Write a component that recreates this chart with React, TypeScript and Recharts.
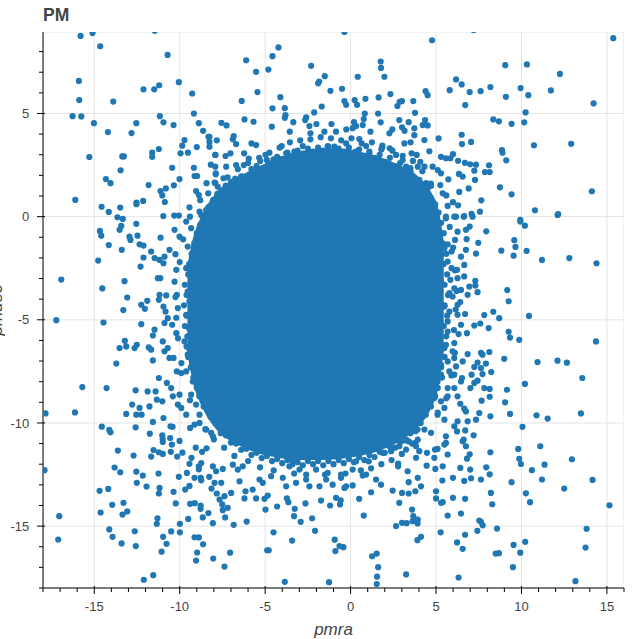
import React from 'react';
import { ComposedChart, Area, Scatter, XAxis, YAxis, CartesianGrid, ReferenceArea } from 'recharts';

const W = 635;
const H = 639;
const FONT = '"Liberation Sans", Helvetica, Arial, sans-serif';
const BLUE = '#1f77b4';
const TEXT = '#444444';

// Axis ticks
const xAllTicks = [-18, -17, -16, -15, -14, -13, -12, -11, -10, -9, -8, -7, -6, -5, -4, -3, -2, -1, 0, 1, 2, 3, 4, 5, 6, 7, 8, 9, 10, 11, 12, 13, 14, 15, 16];
const yAllTicks = [-18, -17, -16, -15, -14, -13, -12, -11, -10, -9, -8, -7, -6, -5, -4, -3, -2, -1, 0, 1, 2, 3, 4, 5, 6, 7, 8];
const xMajorTicks = [-15, -10, -5, 0, 5, 10, 15];
const yMajorTicks = [-15, -10, -5, 0, 5];

// Dense core (saturated region) outline: pmra, lower pmdec, upper pmdec
const blobX = [-9.55, -9.15, -8.5, -7.75, -6.5, -5.33, -4.16, -2.99, -1.82, -0.65, 0.52, 1.68, 2.85, 3.8, 4.55, 5.1, 5.45];
const blobLow = [-6.4, -8.1, -9.45, -10.35, -11.05, -11.45, -11.65, -11.75, -11.75, -11.7, -11.55, -11.3, -10.85, -10.25, -9.45, -8.2, -6.2];
const blobHigh = [-2.6, -1.0, 0.3, 1.2, 1.9, 2.4, 2.8, 3.1, 3.25, 3.25, 3.1, 2.85, 2.45, 2.0, 1.3, 0.3, -1.6];

// Stars crowding the edge of the dense core [pmra, pmdec]
const ptsCoreEdge = [
  [-7.6, 1.2], [-7.3, 1.5], [-7.0, 1.4], [-6.75, 1.85], [-6.4, 1.95], [-6.1, 1.8], [-5.8, 2.3], [-5.5, 2.45], [-5.2, 2.3],
  [-4.9, 2.75], [-4.6, 2.6], [-4.3, 2.9], [-4.0, 2.8], [-3.7, 3.1], [-3.4, 2.95], [-3.1, 3.2], [-2.8, 3.05], [-2.5, 3.3],
  [-2.2, 3.15], [-1.9, 3.35], [-1.6, 3.2], [-1.3, 3.4], [-1.0, 3.2], [-0.7, 3.3], [-0.4, 3.15], [-0.1, 3.35], [0.2, 3.1],
  [0.5, 3.25], [0.8, 2.95], [1.1, 3.15], [1.4, 2.85], [1.7, 3.0], [2.0, 2.65], [2.3, 2.85], [2.6, 2.45], [2.9, 2.6],
  [3.2, 2.2], [3.5, 2.35], [3.8, 1.85], [4.1, 1.6], [4.35, 1.3], [4.6, 0.95],
  [-7.2, 1.9], [-6.6, 2.3], [-6.0, 2.6], [-5.35, 2.85], [-4.75, 3.1], [-4.15, 3.35], [-3.55, 3.6], [-2.95, 3.7], [-2.35, 3.75],
  [-1.75, 3.85], [-1.15, 3.8], [-0.55, 3.7], [0.05, 3.8], [0.65, 3.55], [1.25, 3.6], [1.85, 3.35], [2.45, 3.2], [3.05, 2.95],
  [3.65, 2.7], [4.2, 2.2], [4.7, 1.6],
  [4.95, 0.6], [5.15, 0.2], [5.3, -0.3], [5.45, -0.8], [5.4, -1.3], [5.6, -1.8], [5.45, -2.3], [5.65, -2.8], [5.5, -3.3],
  [5.7, -3.8], [5.5, -4.3], [5.65, -4.8], [5.45, -5.3], [5.6, -5.8], [5.45, -6.3], [5.5, -6.8], [5.3, -7.3], [5.35, -7.8],
  [5.1, -8.3], [4.95, -8.7], [4.7, -9.2], [4.4, -9.6],
  [5.8, -0.5], [6.0, -1.5], [6.1, -2.6], [6.2, -3.6], [6.15, -4.5], [6.05, -5.5], [6.1, -6.6], [5.9, -7.7], [5.6, -8.8], [5.1, -9.5],
  [4.1, -10.0], [3.8, -10.4], [3.5, -10.5], [3.2, -10.85], [2.9, -10.95], [2.6, -11.2], [2.3, -11.15], [2.0, -11.45], [1.7, -11.4],
  [1.4, -11.65], [1.1, -11.55], [0.8, -11.8], [0.5, -11.65], [0.2, -11.9], [-0.1, -11.75], [-0.4, -11.95], [-0.7, -11.8], [-1.0, -12.0],
  [-1.3, -11.85], [-1.6, -12.05], [-1.9, -11.85], [-2.2, -12.0], [-2.5, -11.85], [-2.8, -12.05], [-3.1, -11.9], [-3.4, -12.0], [-3.7, -11.8],
  [-4.0, -11.95], [-4.3, -11.75], [-4.6, -11.85], [-4.9, -11.6], [-5.2, -11.7], [-5.5, -11.45], [-5.8, -11.55], [-6.1, -11.25], [-6.4, -11.3],
  [-6.7, -11.0], [-7.0, -10.95], [-7.3, -10.6], [-7.6, -10.5], [-7.9, -10.0], [-8.2, -9.7],
  [3.6, -11.0], [3.0, -11.5], [2.4, -11.8], [1.8, -12.0], [1.2, -12.2], [0.6, -12.3], [-0.3, -12.45], [-1.5, -12.5], [-2.6, -12.5],
  [-3.3, -12.45], [-4.5, -12.3], [-5.3, -12.15], [-6.0, -11.85], [-6.8, -11.6], [-7.4, -11.2], [-8.0, -10.8], [-8.5, -10.3],
  [-8.6, -9.2], [-8.85, -8.7], [-9.0, -8.3], [-9.2, -7.8], [-9.35, -7.3], [-9.5, -6.8], [-9.6, -6.3], [-9.55, -5.8], [-9.7, -5.3],
  [-9.6, -4.8], [-9.75, -4.3], [-9.6, -3.8], [-9.7, -3.3], [-9.5, -2.8], [-9.45, -2.3], [-9.3, -1.8], [-9.15, -1.3], [-9.0, -0.8],
  [-8.8, -0.4], [-8.6, 0.0], [-8.35, 0.4], [-8.05, 0.8], [-7.8, 1.1],
  [-9.4, -8.9], [-9.9, -7.1], [-10.1, -5.9], [-10.2, -4.9], [-10.25, -3.9], [-10.0, -2.2], [-9.8, -1.1], [-9.4, 0.0], [-8.8, 0.8],
];

// Individual stars [pmra, pmdec]
const ptsUpperLeft = [
  [-15.8, 8.76], [-15.1, 8.9], [-14.65, 8.26], [-11.46, 9.0], [-10.71, 7.84], [-15.9, 6.58], [-15.88, 5.65], [-13.89, 5.58],
  [-16.27, 4.87], [-15.76, 4.86], [-15.02, 4.53], [-14.2, 4.1], [-12.82, 4.05], [-12.54, 4.53], [-12.12, 6.17], [-11.49, 6.17],
  [-11.2, 6.37], [-10.05, 6.52], [-9.27, 5.97], [-9.17, 5.0], [-11.16, 4.87], [-10.95, 4.57], [-10.36, 4.44], [-8.88, 4.53],
  [-8.63, 4.16], [-8.32, 3.87], [-8.26, 3.62], [-9.72, 3.71], [-9.85, 3.44], [-9.0, 3.37], [-11.22, 3.28], [-11.61, 3.1],
  [-11.61, 2.9], [-9.95, 3.07], [-9.52, 3.1], [-7.92, 2.99], [-15.29, 2.89], [-13.36, 2.92], [-13.27, 2.92], [-13.46, 2.25],
  [-10.44, 2.37], [-9.17, 2.37], [-8.18, 2.52], [-9.13, 1.97], [-8.98, 1.97], [-7.89, 2.1], [-14.32, 1.82], [-14.05, 1.62],
  [-11.82, 1.53], [-10.34, 1.52], [-10.01, 1.82], [-8.43, 1.62], [-7.91, 1.62], [-10.81, 1.37], [-11.12, 1.24], [-11.02, 1.03],
  [-10.87, 0.71], [-9.04, 1.24], [-8.88, 1.05], [-8.33, 1.13], [-7.83, 0.86], [-16.11, 0.81], [-14.57, 0.48], [-12.53, 0.68],
  [-12.53, 0.6], [-12.14, 0.76], [-13.48, 0.44], [-14.15, 0.23], [-13.64, -0.03], [-13.33, -0.11], [-10.96, 0.03], [-10.32, 0.05],
  [-10.05, 0.05], [-9.43, 0.45], [-8.84, 0.24], [-8.74, 0.08], [-8.45, 0.32], [-8.3, 0.48],
];

const ptsTopMid = [
  [-0.36, 8.95], [-4.22, 8.2], [-4.57, 7.78], [-6.11, 7.58], [-5.53, 7.02], [-4.81, 7.13], [-2.31, 7.31], [1.76, 7.52],
  [1.78, 7.21], [1.98, 6.78], [0.42, 6.78], [-1.51, 6.81], [-1.84, 6.55], [-1.9, 6.46], [-5.45, 6.04], [-6.37, 5.61],
  [-4.11, 5.79], [-1.18, 6.1], [-0.5, 6.2], [-0.36, 5.6], [-0.26, 5.42], [0.24, 5.65], [0.38, 5.42], [0.87, 5.71],
  [1.64, 5.78], [2.33, 5.94], [2.87, 5.57], [3.01, 5.6], [2.74, 5.36], [3.67, 5.6], [-4.57, 5.25], [-3.85, 5.26],
  [-3.81, 4.92], [-3.85, 4.79], [-1.69, 5.34], [-2.13, 5.05], [-2.6, 4.81], [-2.66, 4.68], [-6.21, 4.71], [-5.68, 4.6],
  [-3.35, 4.58], [-7.56, 4.55], [-7.26, 4.42], [-4.61, 4.36], [-2.41, 4.39], [-2.35, 4.04], [-2.0, 4.49], [-1.12, 4.49],
  [-0.25, 4.23], [0.2, 4.58], [0.12, 4.29], [0.32, 4.39], [0.83, 5.0], [0.77, 4.73], [1.61, 5.0], [0.71, 4.44],
  [1.16, 4.12], [1.76, 4.57], [2.44, 4.23], [2.27, 4.04], [2.85, 4.68], [3.01, 4.33], [3.16, 4.16], [3.4, 4.58],
  [3.77, 5.03], [-3.56, 4.12], [-1.53, 4.12], [-0.85, 4.12], [-8.26, 3.87], [-7.83, 3.7], [-6.84, 3.91], [-6.89, 3.75],
  [-6.7, 3.52], [-5.8, 3.55], [-5.53, 3.47], [-6.23, 3.07], [-4.03, 3.42], [-2.8, 3.42], [-0.26, 3.55], [0.51, 3.76],
  [1.86, 3.44], [1.8, 3.26], [2.29, 3.31], [3.15, 3.55], [3.51, 3.6], [-7.91, 2.99], [-7.32, 2.94], [-7.03, 3.07],
  [-4.98, 3.0], [-5.29, 2.7], [-5.96, 2.81], [-4.51, 2.78], [3.57, 3.07], [3.87, 2.99], [-7.92, 2.42], [-7.28, 2.42],
  [-6.7, 2.5], [-6.25, 2.5], [-5.73, 2.21], [-4.82, 2.5], [-7.89, 2.05], [-7.44, 1.86], [-6.99, 1.69], [-6.31, 1.94],
  [-7.96, 1.65], [-7.77, 1.45], [3.25, 2.42], [3.51, 2.18], [3.44, 1.86], [3.77, 1.53], [-6.37, 1.42], [-5.76, 1.29],
  [-5.33, 1.53], [-5.08, 1.62], [-7.48, 0.81], [-6.99, 0.73], [-7.87, 0.48], [-6.02, 0.97], [-5.53, 1.13],
  [-3.77, 3.07], [-3.29, 3.15], [-1.82, 3.19], [-1.34, 3.42], [-0.95, 3.39], [0.91, 3.42], [1.1, 3.07], [0.32, 3.15],
  [2.66, 2.99], [3.05, 2.74], [-8.26, 3.39],
];

const ptsTopRight = [
  [7.2, 9.04], [4.77, 8.55], [15.37, 8.65], [9.05, 7.34], [10.32, 7.38], [12.25, 6.92], [6.17, 6.65], [6.5, 6.41],
  [5.8, 6.13], [6.97, 6.04], [7.61, 6.08], [8.18, 6.28], [9.09, 5.81], [9.95, 6.23], [10.4, 5.89], [11.72, 6.12],
  [14.22, 5.49], [6.71, 5.41], [4.39, 6.08], [4.51, 5.89], [10.24, 5.05], [10.16, 4.57], [8.35, 4.71], [8.68, 4.62],
  [9.42, 4.5], [4.36, 4.68], [4.22, 4.44], [4.51, 4.42], [3.73, 4.28], [3.73, 3.95], [5.15, 3.79], [6.5, 3.97],
  [6.52, 3.52], [7.05, 3.62], [10.73, 3.46], [12.91, 3.53], [8.86, 3.23], [8.89, 3.1], [9.11, 2.73], [4.32, 3.71],
  [4.61, 3.17], [4.08, 2.66], [5.29, 2.9], [5.58, 2.83], [5.84, 2.83], [5.99, 3.03], [6.29, 2.71], [6.69, 2.61],
  [7.0, 2.54], [7.34, 2.52], [8.1, 2.49], [7.86, 2.16], [8.14, 2.16], [7.24, 2.23], [4.32, 2.42], [4.8, 2.42],
  [5.1, 2.26], [5.29, 2.1], [6.34, 2.07], [6.56, 1.94], [5.72, 1.81], [7.28, 1.78], [5.25, 1.53], [4.71, 1.5],
  [4.42, 1.62], [8.74, 1.42], [9.42, 1.08], [14.12, 1.23], [6.91, 1.37], [5.39, 1.13], [5.6, 1.03], [6.36, 1.2],
  [7.65, 0.79], [5.99, 0.7], [6.29, 0.55], [5.68, 0.52], [10.79, 0.31], [12.15, 0.12], [7.57, 0.24], [7.08, 0.13],
  [6.65, 0.03], [6.17, 0.0], [5.58, 0.0], [9.93, -0.16], [4.9, 0.24], [4.51, 0.08], [4.12, 0.32],
  [3.93, 2.42], [4.02, 1.78], [4.51, 1.37], [3.93, 1.13], [4.22, 0.73], [4.61, 0.48], [3.83, 0.48],
];

const ptsRight = [
  [12.11, 0.08], [9.93, -0.24], [10.2, -0.44], [7.94, -0.71], [9.58, -1.14], [9.65, -1.47], [8.82, -1.65], [9.54, -1.89],
  [10.3, -1.66], [11.2, -2.1], [12.8, -2.01], [14.39, -2.26], [7.47, -1.27], [7.34, -1.79], [6.75, -1.61], [6.79, -1.09],
  [6.97, -0.48], [6.75, -0.64], [6.62, 0.0], [7.14, 0.0], [6.11, -1.13], [5.68, -1.34], [5.91, -1.69], [6.46, -1.94],
  [6.65, -2.34], [6.23, -2.58], [5.91, -2.5], [5.84, -3.06], [6.26, -2.98], [7.3, -3.11], [7.3, -3.34], [7.43, -3.66],
  [6.95, -3.39], [6.85, -3.79], [6.07, -3.47], [6.46, -3.55], [5.97, -3.87], [6.42, -4.14], [9.17, -3.56], [9.25, -4.1],
  [8.35, -4.61], [8.7, -4.92], [7.82, -4.77], [10.44, -4.81], [6.7, -4.72], [6.26, -4.76], [5.78, -4.6], [7.59, -5.18],
  [7.24, -5.28], [8.08, -5.4], [6.46, -5.24], [6.32, -5.69], [6.81, -5.65], [9.25, -5.58], [9.33, -5.86], [9.87, -5.97],
  [14.36, -6.05], [5.68, -5.57], [6.07, -6.13], [5.58, -6.21], [6.85, -6.66], [7.63, -6.6], [8.12, -6.56], [7.72, -6.69],
  [7.43, -7.07], [7.92, -7.12], [7.24, -7.29], [7.63, -7.34], [8.99, -6.89], [10.94, -7.05], [12.11, -6.98], [12.66, -7.08],
  [6.07, -6.85], [6.17, -7.26], [5.78, -7.5], [8.23, -7.53], [7.72, -7.63], [7.08, -7.66], [7.43, -7.95], [7.24, -8.06],
  [13.56, -7.82], [10.2, -8.11], [6.52, -7.82], [6.46, -7.99], [6.07, -7.66], [7.82, -8.31], [8.14, -8.35], [7.01, -8.31],
  [9.15, -8.39], [8.14, -8.73], [7.67, -8.92], [9.04, -9.0], [6.42, -9.07], [6.65, -9.31], [6.75, -9.44], [5.49, -9.27],
  [5.68, -8.71], [6.07, -8.31], [9.33, -9.56], [8.18, -9.68], [7.53, -9.52], [7.34, -9.84], [6.85, -9.92], [10.88, -9.63],
  [11.53, -9.79], [13.48, -9.54], [6.26, -9.92], [5.49, -9.84], [5.09, -9.6], [5.29, -3.15], [5.19, -2.34], [5.29, -1.85],
  [5.49, -1.53], [5.19, -0.97], [5.09, -0.4], [5.58, -0.08], [6.07, 0.0], [5.09, -4.11], [5.49, -4.36], [5.29, -5.24],
  [5.68, -5.08], [5.09, -5.89], [5.49, -6.37], [5.29, -7.18], [5.09, -7.99], [5.68, -8.31], [4.9, -8.79],
  [6.26, -0.73], [5.68, -2.18], [6.65, -2.9], [5.78, -3.71], [6.26, -4.27], [5.97, -6.53], [5.68, -7.02], [6.56, -7.02],
  [5.29, -7.66], [6.26, -8.71], [5.29, -8.95],
];

const ptsLeft = [
  [-16.93, -3.05], [-17.22, -5.02], [-17.85, -9.54], [-16.13, -9.49], [-15.7, -8.26], [-14.28, -8.31], [-14.77, -2.13], [-14.53, -3.48],
  [-14.46, -5.13], [-14.67, -0.69], [-14.59, -0.92], [-14.15, -1.38], [-13.52, -0.64], [-13.42, -0.45], [-12.54, -0.35], [-12.47, -0.92],
  [-12.94, -0.97], [-12.88, -1.13], [-13.39, -1.61], [-12.35, -1.34], [-12.12, -1.4], [-12.29, -2.42], [-12.12, -1.98], [-13.23, -3.13],
  [-13.07, -3.92], [-13.3, -4.53], [-12.25, -4.27], [-11.9, -4.08], [-12.04, -4.47], [-12.25, -5.21], [-11.12, -1.02], [-11.67, -1.69],
  [-11.47, -2.01], [-11.18, -2.1], [-10.89, -1.94], [-10.95, -2.26], [-11.28, -2.98], [-11.14, -2.98], [-11.18, -3.79], [-10.79, -3.82],
  [-11.22, -4.03], [-10.95, -4.36], [-10.83, -4.6], [-10.7, -4.92], [-10.89, -5.16], [-11.47, -5.48], [-11.57, -5.76], [-13.21, -6.02],
  [-13.13, -6.29], [-13.52, -6.37], [-12.51, -6.21], [-12.64, -6.37], [-11.81, -6.34], [-11.67, -6.45], [-13.71, -7.12], [-11.57, -6.97],
  [-11.22, -7.82], [-10.99, -6.05], [-10.7, -6.37], [-10.89, -6.53], [-10.6, -6.85], [-12.58, -8.42], [-11.88, -8.47], [-11.41, -8.47],
  [-12.78, -9.11], [-12.35, -9.27], [-12.54, -9.6], [-12.23, -9.6], [-13.13, -9.56], [-11.77, -9.2], [-11.34, -8.87], [-11.02, -8.95],
  [-11.57, -9.95], [-10.95, -9.76], [-10.75, -8.06], [-10.5, -8.31], [-10.4, -8.71], [-10.2, -2.58], [-10.3, -3.15], [-10.17, -3.79],
  [-10.11, -4.43], [-10.6, -1.61], [-10.25, -1.82], [-10.3, -0.64], [-10.01, -0.97], [-10.44, -5.24], [-10.2, -5.65], [-10.36, -6.85],
  [-10.17, -7.5], [-9.91, -7.58], [-10.01, -8.63], [-10.11, -9.11], [-9.62, -9.6], [-9.91, -9.27], [-9.62, -0.24], [-9.33, -0.56],
  [-9.53, -1.45], [-9.23, -1.85], [-9.62, -2.5], [-9.53, -3.63], [-9.43, -4.11], [-9.62, -4.76], [-9.47, -5.4], [-9.72, -6.05],
  [-9.53, -6.69], [-9.62, -7.5], [-9.23, -7.99], [-9.33, -8.63], [-9.04, -9.11], [-8.84, -9.6],
];

const ptsBottomLeft = [
  [-17.91, -12.29], [-17.05, -14.52], [-17.11, -15.65], [-14.56, -10.18], [-14.12, -10.34], [-14.05, -10.45], [-12.58, -10.21], [-11.02, -10.6],
  [-11.0, -10.76], [-10.99, -10.92], [-11.75, -10.52], [-10.54, -10.16], [-10.42, -10.19], [-10.56, -10.73], [-10.46, -11.05], [-10.52, -11.4],
  [-10.01, -10.87], [-10.15, -11.63], [-9.84, -11.44], [-13.62, -11.34], [-12.7, -11.58], [-11.53, -11.31], [-11.22, -11.42], [-10.99, -11.5],
  [-11.67, -11.63], [-13.81, -12.16], [-13.48, -12.39], [-12.54, -12.36], [-12.51, -12.9], [-12.16, -12.55], [-11.94, -13.08], [-11.24, -12.45],
  [-11.18, -13.15], [-11.22, -13.42], [-10.36, -13.34], [-10.05, -12.61], [-10.23, -13.9], [-14.69, -13.29], [-14.18, -13.2], [-14.63, -14.34],
  [-13.95, -13.97], [-13.29, -13.87], [-13.07, -14.29], [-13.35, -14.44], [-11.3, -14.62], [-11.34, -14.89], [-14.12, -15.16], [-13.93, -15.52],
  [-13.4, -15.84], [-12.63, -15.25], [-12.57, -15.97], [-10.97, -15.52], [-10.77, -15.86], [-11.06, -16.24], [-10.5, -15.26], [-9.99, -14.89],
  [-9.99, -15.3], [-9.5, -14.65], [-12.1, -17.6], [-11.55, -17.38], [-9.39, -13.92], [-9.12, -13.89], [-8.78, -14.16], [-8.77, -14.0],
  [-8.65, -14.58], [-9.13, -15.54], [-8.88, -15.55], [-8.63, -15.88], [-8.98, -16.28], [-9.04, -16.67], [-8.04, -16.57], [-8.06, -14.86],
  [-8.32, -14.37], [-9.68, -13.23], [-9.43, -13.05], [-9.13, -12.66], [-8.74, -12.78], [-8.77, -12.66], [-8.14, -13.18], [-7.83, -13.42],
  [-9.58, -12.42], [-8.88, -12.25], [-8.27, -12.61], [-9.43, -11.98], [-9.31, -11.69], [-9.06, -11.2], [-8.69, -11.4], [-8.43, -11.23],
  [-9.39, -10.24], [-9.13, -10.08], [-8.84, -10.0], [-8.45, -10.32], [-8.16, -10.48], [-8.06, -10.65], [-8.74, -11.94], [-8.88, -12.1],
  [-8.06, -12.1], [-7.87, -12.34],
];

const ptsBottomMid = [
  [-7.38, -16.96], [-7.05, -16.29], [-6.84, -14.94], [-6.08, -14.78], [-7.34, -14.58], [-7.48, -14.23], [-7.19, -14.11], [-7.51, -13.95],
  [-7.67, -13.71], [-6.99, -13.39], [-6.21, -13.66], [-5.53, -13.66], [-4.98, -14.2], [-5.04, -13.68], [-4.85, -13.52], [-4.51, -15.3],
  [-4.88, -16.17], [-4.79, -16.17], [-3.85, -17.7], [-3.42, -15.7], [-4.3, -14.05], [-3.64, -13.84], [-3.73, -13.65], [-3.27, -14.16],
  [-3.31, -14.52], [-2.92, -14.79], [-2.64, -13.9], [-2.25, -14.62], [-2.08, -15.23], [-1.73, -13.76], [-1.2, -14.0], [-0.85, -13.63],
  [-0.58, -13.75], [-0.62, -13.95], [-0.36, -13.15], [-1.26, -17.72], [-0.93, -15.66], [-0.65, -15.97], [-0.42, -16.02], [-0.89, -16.21],
  [0.5, -13.68], [0.77, -14.49], [0.12, -13.03], [0.71, -12.55], [1.2, -13.36], [1.26, -16.46], [1.53, -16.33], [1.61, -16.99],
  [1.55, -17.45], [1.53, -17.81], [1.78, -12.99], [2.46, -13.28], [3.01, -13.39], [2.85, -13.87], [3.4, -13.42], [2.66, -15.0],
  [3.01, -14.84], [3.28, -14.86], [3.63, -14.76], [3.67, -14.52], [3.6, -14.2], [3.92, -14.87], [3.91, -15.68], [3.25, -17.34],
  [3.4, -12.87], [3.34, -12.34], [2.78, -12.1], [2.78, -11.97], [3.25, -11.29], [3.4, -10.89], [3.79, -10.97], [3.92, -10.32],
  [-7.48, -12.23], [-7.57, -12.9], [-7.38, -13.55], [-7.96, -12.9], [-6.89, -12.02], [-6.6, -12.26], [-6.31, -12.1], [-6.5, -12.83],
  [-6.15, -13.31], [-5.73, -13.23], [-5.33, -12.74], [-5.14, -12.9], [-4.65, -12.58], [-3.97, -12.66], [-3.77, -13.07], [-3.19, -12.9],
  [-2.6, -12.74], [-2.41, -13.07], [-1.82, -13.07], [-1.43, -12.74], [-1.05, -12.99], [-0.56, -12.66], [-0.26, -13.07], [0.12, -12.26],
  [0.91, -12.5], [1.06, -11.86], [1.49, -12.74], [-3.58, -12.1], [-2.99, -12.26], [-2.02, -12.26], [-1.34, -12.42], [-0.56, -12.5],
  [-3.39, -11.78], [0.32, -11.86], [1.88, -11.45], [2.37, -11.37], [2.85, -11.13], [3.25, -10.81], [1.88, -10.81],
];

const ptsBottomRight = [
  [10.06, -10.19], [11.1, -11.13], [12.95, -11.76], [9.81, -11.26], [9.87, -11.74], [9.97, -11.99], [11.35, -12.02], [10.61, -12.29],
  [11.2, -12.74], [14.16, -12.76], [12.5, -13.18], [9.42, -12.87], [10.26, -13.41], [10.5, -13.84], [15.15, -13.99], [13.81, -15.13],
  [13.75, -16.04], [13.16, -17.67], [8.57, -15.12], [9.54, -15.91], [10.22, -15.76], [9.93, -16.29], [9.5, -16.99], [8.49, -16.33],
  [8.68, -16.31], [7.42, -15.23], [7.53, -14.73], [7.63, -14.79], [7.73, -14.96], [6.32, -17.49], [6.56, -16.1], [6.7, -15.42],
  [6.23, -15.79], [5.27, -15.3], [5.68, -14.49], [6.46, -14.39], [8.21, -13.39], [8.29, -13.94], [6.7, -13.68], [5.99, -13.63],
  [5.29, -13.87], [5.39, -13.84], [5.0, -13.66], [5.0, -13.31], [7.63, -12.74], [7.05, -12.68], [6.65, -12.81], [7.0, -12.26],
  [6.42, -12.18], [5.99, -12.66], [5.37, -12.79], [4.96, -12.23], [7.94, -12.15], [8.14, -12.49], [8.18, -11.42], [6.97, -11.52],
  [6.81, -11.73], [6.75, -11.13], [6.56, -10.89], [6.62, -10.81], [7.2, -10.6], [6.71, -10.36], [6.07, -10.16], [6.23, -10.41],
  [5.58, -10.65], [5.58, -10.97], [5.68, -11.53], [5.49, -11.05], [5.09, -11.26], [4.9, -11.69], [4.45, -12.07], [5.39, -12.1],
  [4.94, -11.29], [3.93, -12.66], [4.12, -13.07], [3.79, -13.31], [4.47, -11.45], [4.02, -11.37], [3.83, -11.69], [4.32, -10.32],
  [4.71, -10.48], [3.93, -10.81], [3.83, -11.13], [3.93, -14.68], [4.12, -15.52],
];

const blobData = blobX.map((x, i) => ({ x, band: [blobLow[i], blobHigh[i]] }));
const starData = [
  ...ptsCoreEdge, ...ptsUpperLeft, ...ptsTopMid, ...ptsTopRight, ...ptsRight,
  ...ptsLeft, ...ptsBottomLeft, ...ptsBottomMid, ...ptsBottomRight,
].map(([x, y]) => ({ x, y }));

const XTick = (props: any) => {
  const { x, y, payload } = props;
  const v = payload.value;
  const major = v % 5 === 0;
  return (
    <g>
      <line x1={x} x2={x} y1={major ? y - 2 : y} y2={y + (major ? 6 : 4)} stroke="#000" strokeWidth={1} />
      {major && (
        <text x={x} y={y + 23.3} textAnchor="middle" fontSize={13} fontFamily={FONT} fill={TEXT}>
          {String(v)}
        </text>
      )}
    </g>
  );
};

const YTick = (props: any) => {
  const { x, y, payload } = props;
  const v = payload.value;
  const major = v % 5 === 0;
  return (
    <g>
      <line x1={x - (major ? 6 : 4)} x2={major ? x + 2 : x} y1={y} y2={y} stroke="#000" strokeWidth={1} />
      {major && (
        <text x={x - 13.8} y={y + 4.7} textAnchor="end" fontSize={13} fontFamily={FONT} fill={TEXT}>
          {String(v)}
        </text>
      )}
    </g>
  );
};

const XLabel = (props: any) => {
  const vb = props.viewBox || { x: 43, y: 588, width: 581, height: 51 };
  return (
    <text x={vb.x + vb.width / 2} y={vb.y + vb.height - 4} textAnchor="middle" fontSize={17} fontStyle="italic" fontFamily={FONT} fill={TEXT}>
      pmra
    </text>
  );
};

const YLabel = (props: any) => {
  const vb = props.viewBox || { x: 0, y: 32, width: 43, height: 556 };
  const cy = vb.y + vb.height / 2;
  return (
    <text transform={`translate(1.5, ${cy}) rotate(-90)`} textAnchor="middle" fontSize={17} fontStyle="italic" fontFamily={FONT} fill={TEXT}>
      pmdec
    </text>
  );
};

const Dot = (props: any) => {
  const { cx, cy } = props;
  if (cx == null || cy == null) return null;
  return <circle cx={cx} cy={cy} r={3.1} fill={BLUE} />;
};

export default function App() {
  return (
    <div style={{ position: 'absolute', left: 0, top: 0, width: W, height: H, background: '#fff', overflow: 'hidden' }}>
      <div style={{ position: 'absolute', left: 0, top: 0 }}>
        <ComposedChart width={W} height={H} data={blobData} margin={{ top: 32, right: 11, bottom: 0, left: 0 }}>
          <CartesianGrid stroke="#e5e5e5" strokeWidth={1} verticalValues={xMajorTicks} horizontalValues={yMajorTicks} />
          <ReferenceArea x1={-18} x2={16} y1={-18} y2={8.95} fill="none" stroke="#e5e5e5" strokeWidth={1} ifOverflow="hidden" />
          <XAxis
            dataKey="x"
            type="number"
            domain={[-18, 16]}
            allowDataOverflow
            ticks={xAllTicks}
            interval={0}
            tickSize={0}
            tickMargin={0}
            tickLine={false}
            tick={(p: any) => <XTick {...p} />}
            height={51}
            axisLine={{ stroke: '#000', strokeWidth: 1 }}
            label={{ content: (p: any) => <XLabel {...p} /> }}
          />
          <YAxis
            dataKey="y"
            type="number"
            domain={[-18, 8.95]}
            allowDataOverflow
            ticks={yAllTicks}
            interval={0}
            tickSize={0}
            tickMargin={0}
            tickLine={false}
            tick={(p: any) => <YTick {...p} />}
            width={43}
            axisLine={{ stroke: '#000', strokeWidth: 1 }}
            label={{ content: (p: any) => <YLabel {...p} /> }}
          />
          <Area
            dataKey="band"
            type="monotone"
            stroke={BLUE}
            strokeWidth={2}
            fill={BLUE}
            fillOpacity={1}
            dot={false}
            activeDot={false}
            isAnimationActive={false}
          />
          <Scatter data={starData} dataKey="y" fill={BLUE} shape={(p: any) => <Dot {...p} />} isAnimationActive={false} />
        </ComposedChart>
      </div>
      <svg width={W} height={30} style={{ position: 'absolute', left: 0, top: 0 }}>
        <text x={43} y={21} fontSize={17.5} fontWeight="bold" fontFamily={FONT} fill={TEXT}>
          PM
        </text>
      </svg>
    </div>
  );
}
